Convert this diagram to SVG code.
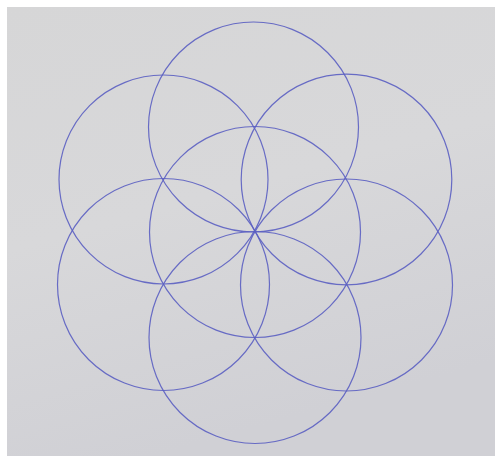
<svg xmlns="http://www.w3.org/2000/svg" width="495" height="456" viewBox="0 0 495 456">
<defs>
<linearGradient id="bg" x1="0" y1="0" x2="0.3" y2="1">
<stop offset="0" stop-color="#d6d6d7"/>
<stop offset="0.5" stop-color="#d8d8da"/>
<stop offset="1" stop-color="#d0d0d5"/>
</linearGradient>
<style>
.c{fill:none;stroke:#5b5fc2;stroke-width:1.2;stroke-opacity:0.9}
</style>
</defs>
<rect x="0" y="0" width="495" height="456" fill="#ffffff"/>
<rect x="7" y="7" width="488" height="449" fill="url(#bg)"/>
<g id="circle-center"><circle class="c" cx="255" cy="232" r="105.5"/></g>
<g id="circle-top"><circle class="c" cx="253.5" cy="127" r="105"/></g>
<g id="circle-top-right"><circle class="c" cx="346.5" cy="179.5" r="105.3"/></g>
<g id="circle-bottom-right"><circle class="c" cx="346.5" cy="285" r="106"/></g>
<g id="circle-bottom"><circle class="c" cx="255" cy="337.5" r="106"/></g>
<g id="circle-bottom-left"><circle class="c" cx="163.5" cy="284.5" r="106"/></g>
<g id="circle-top-left"><circle class="c" cx="163.5" cy="179.5" r="104.5"/></g>
<g id="connectors"/>
</svg>
